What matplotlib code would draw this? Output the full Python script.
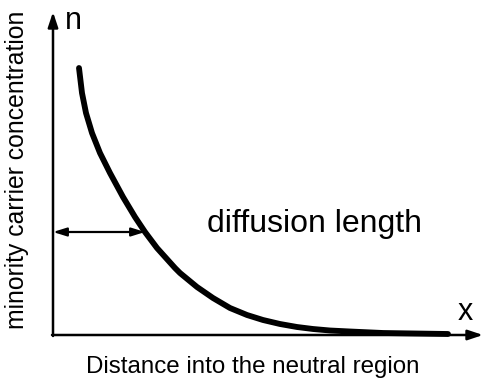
import matplotlib
matplotlib.use("Agg")
import matplotlib.pyplot as plt

plt.rcParams['font.family'] = ['Liberation Sans', 'DejaVu Sans']

# Minority carrier concentration profile (distance from the junction edge, concentration)
distance = [26, 29, 33, 39, 47, 57, 70, 82, 92, 104, 122, 127, 144, 160,
            177, 194, 210, 227, 244, 260, 277, 297, 330, 362, 395]
concentration = [267, 242, 222, 202, 182, 162, 138, 118, 103, 87, 67, 62, 48, 37,
                 27, 20, 15, 11, 8, 6, 4.5, 3.5, 2, 1.5, 1]

# Diffusion length marker: depth at which the concentration has dropped to n0/e
diff_length = 92
diff_level = 103

axis_labels = {"y": "minority carrier concentration",
               "x": "Distance into the neutral region"}
axis_symbols = {"y": "n", "x": "x"}
annotation = "diffusion length"

fig = plt.figure(figsize=(4.83, 3.87), dpi=100)
ax = fig.add_axes([0, 0, 1, 1])
ax.set_xlim(-53, 430)
ax.set_ylim(-52, 335)
ax.axis("off")

# axes with arrow heads
arrow_kw = dict(arrowstyle="-|>,head_length=0.9,head_width=0.3", color="black",
                lw=1.8, shrinkA=0, shrinkB=0)
ax.annotate("", xy=(0, 323), xytext=(0, -1), arrowprops=arrow_kw)
ax.annotate("", xy=(430, 0), xytext=(-1, 0), arrowprops=arrow_kw)

# concentration curve
ax.plot(distance, concentration, color="black", lw=4.2, solid_capstyle="round",
        solid_joinstyle="round")

# diffusion length double arrow
ax.annotate("", xy=(diff_length, diff_level), xytext=(0, diff_level),
            arrowprops=dict(arrowstyle="<|-|>,head_length=0.8,head_width=0.25",
                            color="black", lw=1.6, shrinkA=0, shrinkB=0))

ax.text(154, 111, annotation, fontsize=23, ha="left", va="center")
ax.text(12, 314, axis_symbols["y"], fontsize=22, ha="left", va="center")
ax.text(412, 23, axis_symbols["x"], fontsize=22, ha="center", va="center")

ax.text(-36, 165, axis_labels["y"], fontsize=17.8, rotation=90, ha="center", va="center")
ax.text(200, -32, axis_labels["x"], fontsize=17.4, ha="center", va="center")

fig.savefig("out.png", dpi=100)
